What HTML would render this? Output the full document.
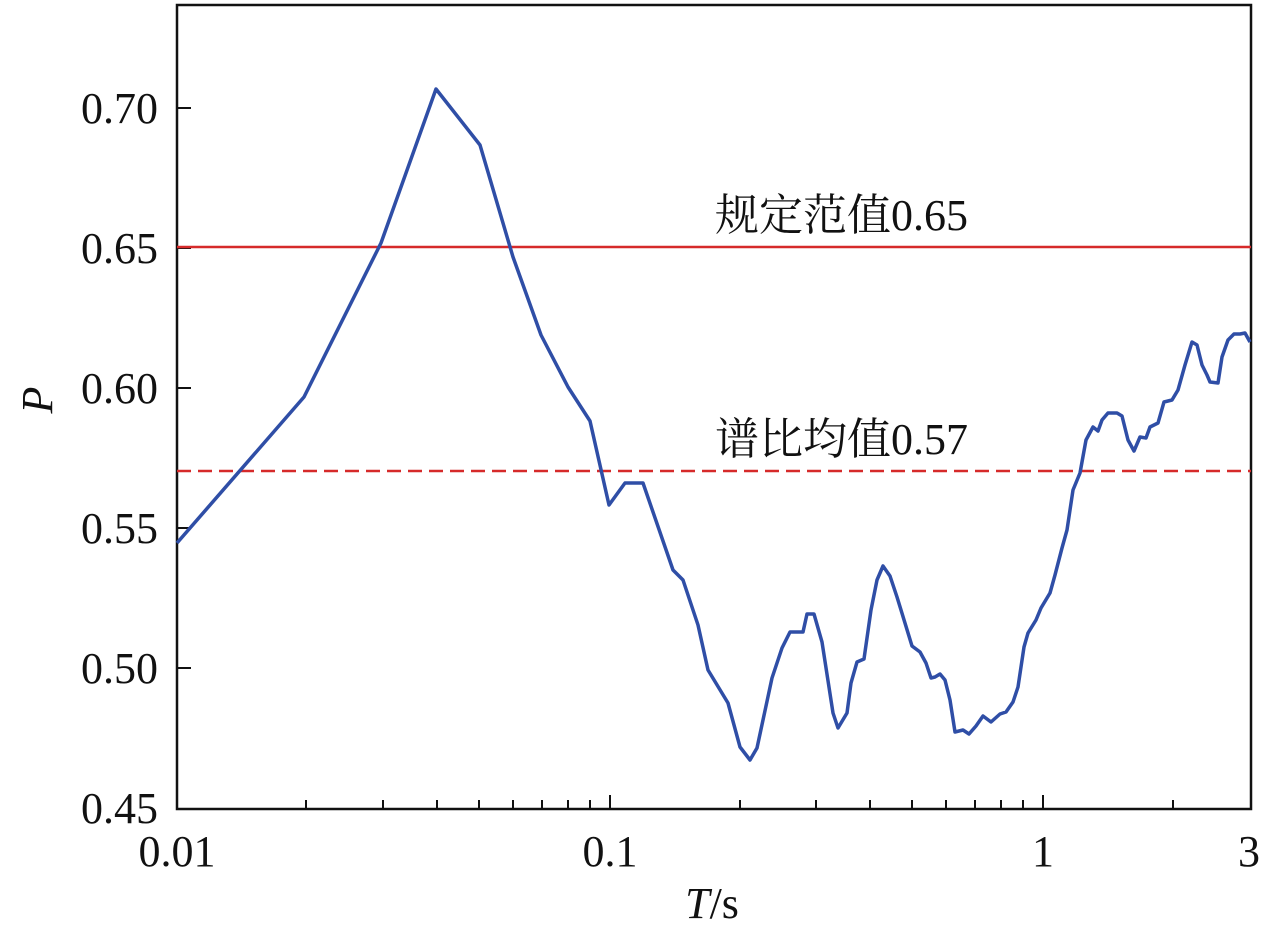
<!DOCTYPE html>
<html><head><meta charset="utf-8"><style>
body{margin:0;background:#fff}
svg text{font-family:"Liberation Serif","Noto Serif CJK SC",serif;fill:#111}
</style></head><body>
<svg width="1280" height="929" viewBox="0 0 1280 929">
<rect x="177" y="5" width="1074" height="804" fill="none" stroke="#111" stroke-width="2.5"/>
<g stroke="#111" stroke-width="2">
<line x1="177" y1="108" x2="191" y2="108"/><line x1="177" y1="248" x2="191" y2="248"/>
<line x1="177" y1="388" x2="191" y2="388"/><line x1="177" y1="528" x2="191" y2="528"/>
<line x1="177" y1="668" x2="191" y2="668"/>
<line x1="610" y1="809" x2="610" y2="795"/><line x1="1043" y1="809" x2="1043" y2="795"/>
<line x1="306" y1="809" x2="306" y2="800"/><line x1="383" y1="809" x2="383" y2="800"/>
<line x1="437" y1="809" x2="437" y2="800"/><line x1="479" y1="809" x2="479" y2="800"/>
<line x1="513" y1="809" x2="513" y2="800"/><line x1="542" y1="809" x2="542" y2="800"/>
<line x1="568" y1="809" x2="568" y2="800"/><line x1="590" y1="809" x2="590" y2="800"/>
<line x1="740" y1="809" x2="740" y2="800"/><line x1="816" y1="809" x2="816" y2="800"/>
<line x1="870" y1="809" x2="870" y2="800"/><line x1="912" y1="809" x2="912" y2="800"/>
<line x1="946" y1="809" x2="946" y2="800"/><line x1="975" y1="809" x2="975" y2="800"/>
<line x1="1001" y1="809" x2="1001" y2="800"/><line x1="1023" y1="809" x2="1023" y2="800"/>
<line x1="1173" y1="809" x2="1173" y2="800"/>
</g>
<g font-size="44" text-anchor="end">
<text x="158" y="123">0.70</text><text x="158" y="263">0.65</text><text x="158" y="403">0.60</text>
<text x="158" y="543">0.55</text><text x="158" y="683">0.50</text><text x="158" y="823">0.45</text>
</g>
<g font-size="44" text-anchor="middle">
<text x="177" y="866">0.01</text><text x="610" y="866">0.1</text><text x="1043" y="866">1</text><text x="1249" y="866">3</text>
<text x="712" y="918"><tspan font-style="italic">T</tspan>/s</text>
</g>
<text x="52" y="400" font-size="44" font-style="italic" text-anchor="middle" transform="rotate(-90 52 400)">P</text>
<line x1="177" y1="247" x2="1251" y2="247" stroke="#d62a2a" stroke-width="2.5"/>
<line x1="177" y1="471" x2="1251" y2="471" stroke="#d62a2a" stroke-width="2.5" stroke-dasharray="14,7"/>
<text x="715" y="230" font-size="44">规定范值0.65</text>
<text x="715" y="454" font-size="44">谱比均值0.57</text>
<polyline fill="none" stroke="#2f4ea6" stroke-width="3.5" stroke-linejoin="round" points="177,543 304,397 381,243 436,89 480,145 513,257 541,335 568,387 590,421 609,505 625,483 643,483 673,570 683,580 698,625 708,670 728,703 740,747 750,760 757,748 772,678 782,648 790,632 803,632 807,614 814,614 822,642 833,713 838,728 847,713 851,683 857,662 864,659 871,610 877,580 883,566 890,576 897,597 901,610 912,646 920,652 926,663 931,678 935,677 940,674 945,680 950,700 955,732 963,730 969,734 976,726 983,716 991,722 1000,714 1006,712 1013,702 1018,687 1024,647 1028,633 1036,620 1041,608 1050,593 1055,575 1062,548 1067,530 1070,510 1073,490 1080,473 1086,440 1093,427 1098,431 1102,420 1108,413 1117,413 1122,416 1128,440 1134,451 1140,437 1146,438 1150,427 1158,423 1164,402 1172,400 1178,390 1185,365 1192,342 1197,345 1202,365 1207,375 1210,382 1218,383 1222,357 1228,340 1234,334 1240,334 1245,333 1250,342"/>
</svg>
</body></html>
